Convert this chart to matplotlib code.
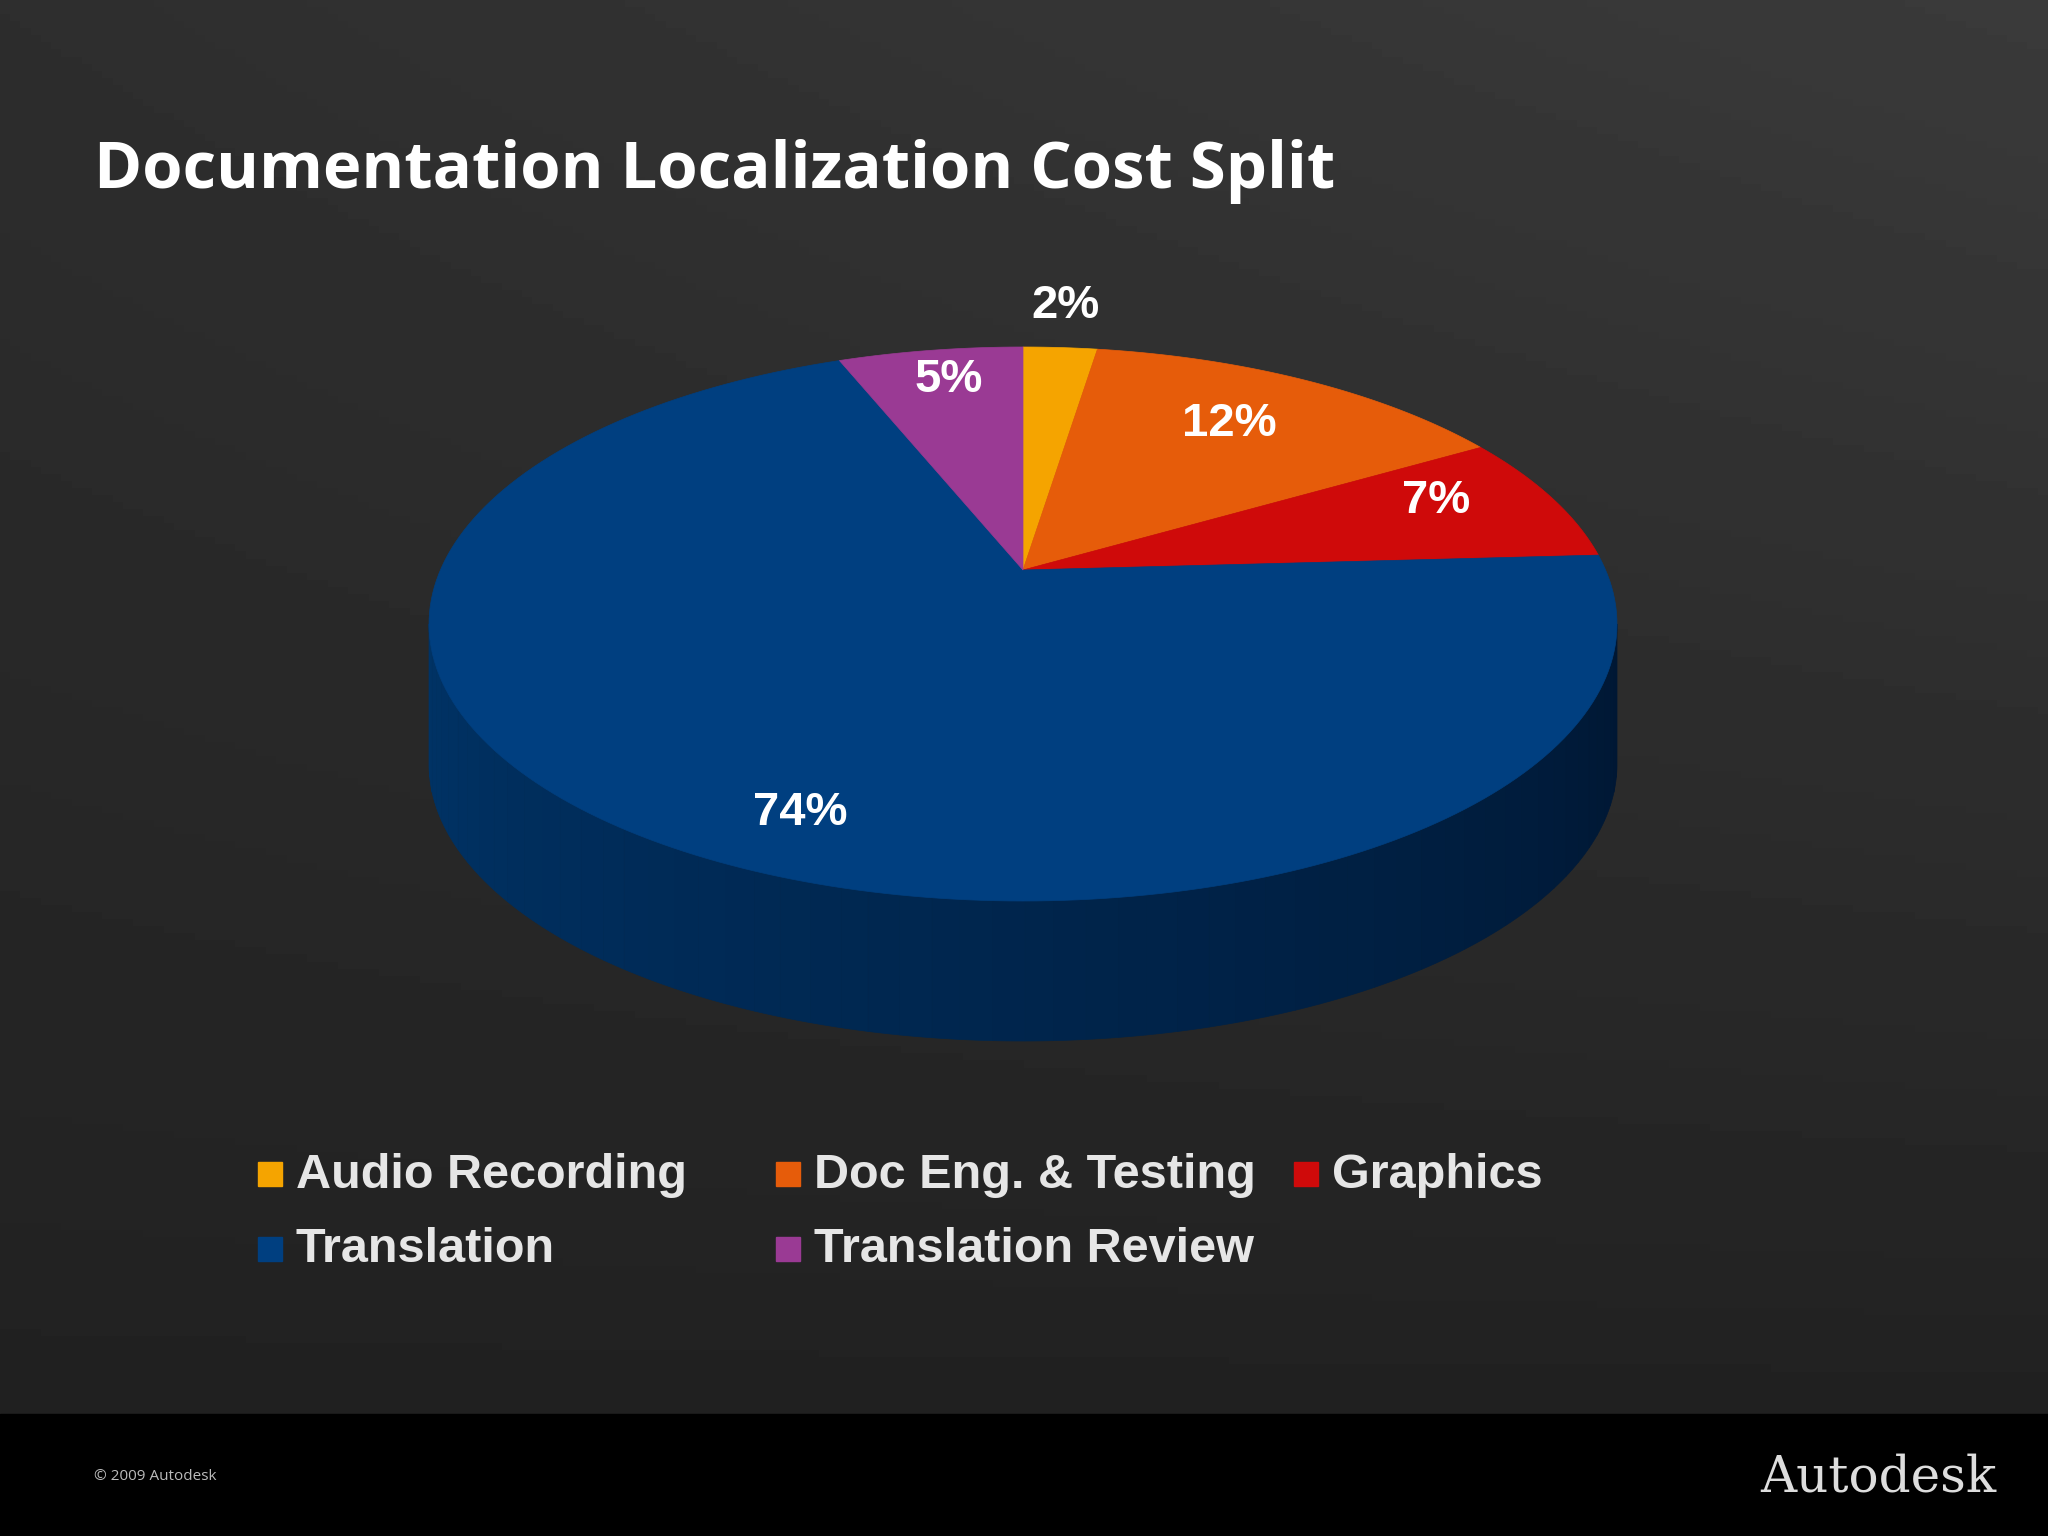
import numpy as np
import matplotlib.pyplot as plt
from matplotlib.patches import Polygon, Rectangle

labels = ["Audio Recording", "Doc Eng. & Testing", "Graphics", "Translation", "Translation Review"]
shares = [2, 12, 7, 74, 5]
colors = ["#f5a400", "#e65c0a", "#cf0a0a", "#003f80", "#9a3a94"]
label_r = [1.15, 0.72, 0.78, 0.78, 0.8]

W, H = 2048, 1536
fig = plt.figure(figsize=(20.48, 15.36), dpi=100)
ax = fig.add_axes([0, 0, 1, 1])
ax.set_xlim(0, W)
ax.set_ylim(H, 0)
ax.axis("off")

# background gradient
yy, xx = np.mgrid[0:1:200j, 0:1:200j]
bg = 0.13 + 0.10 * (1 - yy) * (0.5 + 0.5 * xx)
ax.imshow(bg, cmap="gray", vmin=0, vmax=1, extent=[0, W, 1414, 0], aspect="auto", zorder=0)
ax.add_patch(Rectangle((0, 1414), W, H - 1414, color="black", zorder=1))

cx, cy, rx, ry, depth = 1023, 624, 594, 277, 140
apex_y = cy - 54  # perspective: slices meet above the ellipse centre

def pt(a, r=1.0, dy=0.0):
    return cx + r * rx * np.cos(a), cy - r * ry * np.sin(a) + dy

# side wall (front half), shaded in bands
t = np.linspace(np.pi, 2 * np.pi, 400)
nb = 60
for i in range(nb):
    a = t[i * len(t) // nb:(i + 1) * len(t) // nb + 1]
    xs, ys = pt(a)
    f = i / (nb - 1)
    c = np.array([0.0, 0.20, 0.40]) * (1 - f) + np.array([0.0, 0.09, 0.20]) * f
    poly = np.column_stack([np.r_[xs, xs[::-1]], np.r_[ys, ys[::-1] + depth]])
    ax.add_patch(Polygon(poly, closed=True, fc=c, ec=c, lw=0.5, zorder=2))

# top face slices, clockwise from 12 o'clock
start = np.pi / 2
for s, c, lab_r in zip(shares, colors, label_r):
    ang = s / 100 * 2 * np.pi
    a = np.linspace(start, start - ang, 200)
    xs, ys = pt(a)
    poly = np.column_stack([np.r_[cx, xs], np.r_[apex_y, ys]])
    ax.add_patch(Polygon(poly, closed=True, fc=c, ec=c, lw=0.5, zorder=3))
    mid = start - ang / 2
    lx, ly = pt(mid, lab_r)
    shift = 25 if (s < 50 and lab_r < 1) else 0
    ax.text(lx, ly - shift, f"{s}%", color="white", fontsize=34, fontweight="bold",
            family="Liberation Sans", ha="center", va="center", zorder=5)
    start -= ang

# legend
leg_x = [270, 788, 1306]
leg_y = [1175, 1250]
for i, (lab, c) in enumerate(zip(labels, colors)):
    x = leg_x[i % 3] if i < 3 else leg_x[i - 3]
    y = leg_y[0] if i < 3 else leg_y[1]
    ax.add_patch(Rectangle((x - 12, y - 13), 24, 24, color=c, zorder=4))
    ax.text(x + 26, y, lab, color="#e6e6e6", fontsize=35, fontweight="bold",
            family="Liberation Sans", ha="left", va="center", zorder=4)

ax.text(94, 172, "Documentation Localization Cost Split", color="white", fontsize=47,
        fontweight="bold", family="Open Sans", ha="left", va="center", zorder=4)
ax.text(94, 1476, "© 2009 Autodesk", color="#bbbbbb", fontsize=11, family="Open Sans",
        ha="left", va="center", zorder=4)
ax.text(1996, 1478, "Autodesk", color="#dddddd", fontsize=36, family="DejaVu Serif",
        ha="right", va="center", zorder=4)

fig.savefig("out.png", dpi=100, facecolor="black")
